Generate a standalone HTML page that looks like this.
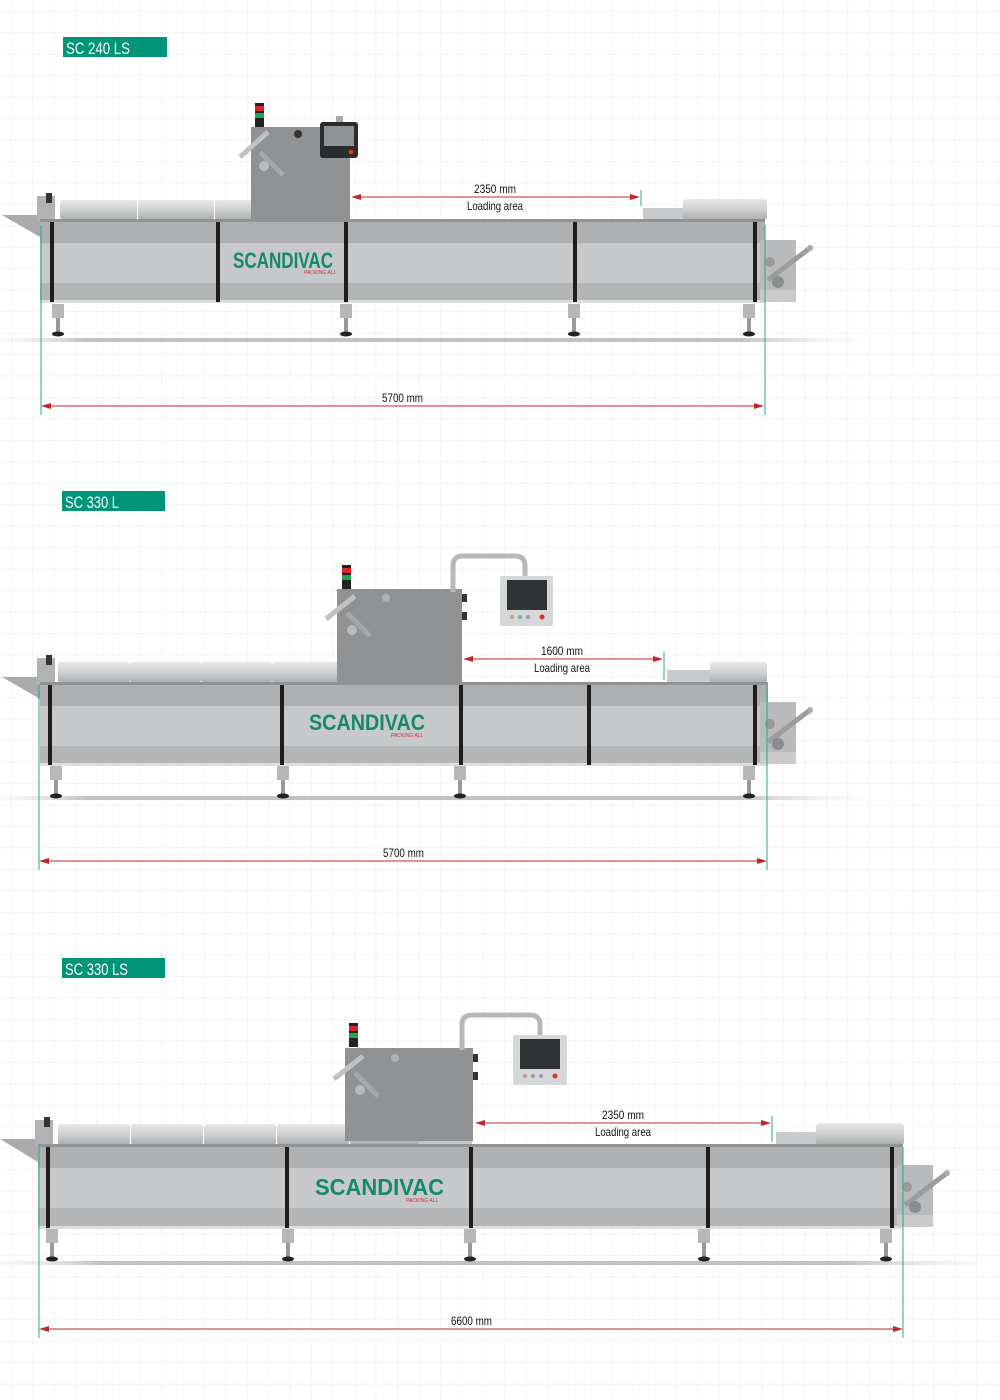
<!DOCTYPE html>
<html><head><meta charset="utf-8"><style>
html,body{margin:0;padding:0;background:#fff}
svg{display:block}
.t{font-family:"Liberation Sans Narrow","Liberation Sans",sans-serif;}
</style></head><body>
<svg width="1000" height="1400" viewBox="0 0 1000 1400" xmlns="http://www.w3.org/2000/svg">
<defs>
<pattern id="grid" x="11" y="11" width="21.45" height="21.45" patternUnits="userSpaceOnUse">
<path d="M0 0H21.45M0 0V21.45" stroke="#ececec" stroke-width="1.2" fill="none"/>
</pattern>
<linearGradient id="floor" x1="0" x2="1" y1="0" y2="0">
<stop offset="0" stop-color="#ddd" stop-opacity="0.3"/><stop offset="0.1" stop-color="#999"/><stop offset="0.85" stop-color="#999"/><stop offset="1" stop-color="#ddd" stop-opacity="0"/>
</linearGradient>
<linearGradient id="tray" x1="0" x2="0" y1="0" y2="1">
<stop offset="0" stop-color="#e6e7e8"/><stop offset="0.5" stop-color="#cfd0d1"/><stop offset="1" stop-color="#a9abac"/>
</linearGradient>
<g id="leg"><rect x="-6" y="0" width="12" height="14" fill="#b5b7b8"/><rect x="-2" y="14" width="4" height="14" fill="#999"/><ellipse cx="0" cy="30" rx="6" ry="2.5" fill="#222"/></g>
<g id="unw"><rect x="0" y="0" width="36" height="62" fill="#b8babb"/><rect x="0" y="50" width="36" height="12" fill="#c9cacb"/><line x1="8" y1="40" x2="50" y2="8" stroke="#9a9c9d" stroke-width="5"/><circle cx="50" cy="8" r="3" fill="#aaa"/><circle cx="10" cy="22" r="5" fill="#999"/><circle cx="18" cy="42" r="6" fill="#8a8c8d"/></g>
<g id="lights"><rect x="0" y="0" width="9" height="24" fill="#222"/><rect x="0" y="3" width="9" height="5" fill="#d8262a"/><rect x="0" y="10" width="9" height="5" fill="#1fa84a"/></g>
</defs>
<rect width="1000" height="1400" fill="url(#grid)"/>

<!-- ========== MACHINE 1 ========== -->
<rect x="63" y="37" width="104" height="20" fill="#009479"/>
<text class="t" x="66" y="54" font-size="17" fill="#fff" textLength="64" lengthAdjust="spacingAndGlyphs">SC 240 LS</text>
<rect x="0" y="338" width="870" height="4" fill="url(#floor)" opacity="0.6"/>
<polygon points="2,215 40,215 40,237" fill="#a8aaab"/>
<rect x="37" y="196" width="18" height="26" fill="#b0b2b3"/><rect x="46" y="193" width="6" height="10" fill="#333"/>
<rect x="60" y="200" width="77" height="20" rx="3" fill="url(#tray)"/>
<rect x="138" y="200" width="76" height="20" rx="3" fill="url(#tray)"/>
<rect x="215" y="200" width="76" height="20" rx="3" fill="url(#tray)"/>
<rect x="290" y="207" width="60" height="13" fill="#c3c4c5"/>
<rect x="643" y="208" width="42" height="12" fill="#c9cacb"/>
<rect x="683" y="199" width="84" height="21" rx="3" fill="url(#tray)"/>
<rect x="251" y="127" width="99" height="93" fill="#8f9192"/>
<line x1="240" y1="157" x2="268" y2="132" stroke="#c0c1c2" stroke-width="5"/>
<line x1="260" y1="152" x2="283" y2="175" stroke="#a5a7a8" stroke-width="5"/>
<circle cx="264" cy="166" r="5" fill="#b9babb"/><circle cx="298" cy="134" r="4" fill="#333"/>
<use href="#lights" x="255" y="103"/>
<rect x="336" y="116" width="7" height="8" fill="#aaa"/>
<rect x="320" y="122" width="38" height="36" rx="3" fill="#2a2c2d"/>
<rect x="324" y="126" width="30" height="20" fill="#8d9293"/>
<circle cx="351" cy="152" r="2.5" fill="#d32"/>
<rect x="40" y="219" width="725" height="3" fill="#909293"/>
<rect x="40" y="222" width="725" height="21" fill="#adafb0"/>
<rect x="40" y="243" width="725" height="40" fill="#c6c8c9"/>
<rect x="40" y="283" width="725" height="19" fill="#b3b5b6"/>
<rect x="40" y="300" width="725" height="3" fill="#dcdddd"/>
<g fill="#1e1e1e"><rect x="50" y="222" width="4" height="80"/><rect x="216" y="222" width="4" height="80"/><rect x="344" y="222" width="4" height="80"/><rect x="573" y="222" width="4" height="80"/><rect x="753" y="222" width="4" height="80"/></g>
<use href="#unw" x="760" y="240"/>
<use href="#leg" x="58" y="304"/><use href="#leg" x="346" y="304"/><use href="#leg" x="574" y="304"/><use href="#leg" x="749" y="304"/>
<text class="t" x="233" y="268" font-size="22" font-weight="bold" fill="#14896b" textLength="100" lengthAdjust="spacingAndGlyphs">SCANDIVAC</text>
<text class="t" x="304" y="274" font-size="5" font-style="italic" fill="#c33">PACKING ALL</text>
<line x1="41" y1="225" x2="41" y2="415" stroke="#2aa885" stroke-width="1"/>
<line x1="765" y1="225" x2="765" y2="415" stroke="#2aa885" stroke-width="1"/>
<line x1="48" y1="406" x2="758" y2="406" stroke="#c0272d" stroke-width="1"/>
<polygon points="41,406 51,403 51,409" fill="#c0272d"/><polygon points="764,406 754,403 754,409" fill="#c0272d"/>
<text class="t" x="382" y="402" font-size="12" fill="#111" textLength="41" lengthAdjust="spacingAndGlyphs">5700 mm</text>
<line x1="358" y1="197" x2="630" y2="197" stroke="#c0272d" stroke-width="1"/>
<polygon points="351,197 361,194 361,200" fill="#c0272d"/><polygon points="640,197 630,194 630,200" fill="#c0272d"/>
<line x1="641" y1="190" x2="641" y2="206" stroke="#2aa885"/>
<text class="t" x="474" y="193" font-size="12" fill="#111" textLength="42" lengthAdjust="spacingAndGlyphs">2350 mm</text>
<text class="t" x="467" y="210" font-size="12" fill="#111" textLength="56" lengthAdjust="spacingAndGlyphs">Loading area</text>

<!-- ========== MACHINE 2 ========== -->
<rect x="62" y="491" width="103" height="20" fill="#009479"/>
<text class="t" x="65" y="508" font-size="17" fill="#fff" textLength="54" lengthAdjust="spacingAndGlyphs">SC 330 L</text>
<rect x="0" y="796" width="870" height="4" fill="url(#floor)" opacity="0.6"/>
<polygon points="2,677 40,677 40,699" fill="#a8aaab"/>
<rect x="37" y="658" width="18" height="26" fill="#b0b2b3"/><rect x="46" y="655" width="6" height="10" fill="#333"/>
<rect x="58" y="662" width="72" height="21" rx="3" fill="url(#tray)"/>
<rect x="130" y="662" width="71" height="21" rx="3" fill="url(#tray)"/>
<rect x="201" y="662" width="71" height="21" rx="3" fill="url(#tray)"/>
<rect x="272" y="662" width="71" height="21" rx="3" fill="url(#tray)"/>
<rect x="343" y="662" width="70" height="21" rx="3" fill="url(#tray)"/>
<rect x="413" y="670" width="48" height="13" fill="#c3c4c5"/>
<rect x="667" y="670" width="44" height="13" fill="#c9cacb"/>
<rect x="710" y="662" width="57" height="21" rx="3" fill="url(#tray)"/>
<rect x="337" y="589" width="125" height="94" fill="#8f9192"/>
<line x1="326" y1="619" x2="355" y2="596" stroke="#c0c1c2" stroke-width="5"/>
<line x1="347" y1="613" x2="370" y2="636" stroke="#a5a7a8" stroke-width="5"/>
<circle cx="352" cy="630" r="5" fill="#b9babb"/><circle cx="386" cy="598" r="4" fill="#b0b1b2"/>
<use href="#lights" x="342" y="565"/>
<path d="M453 592 V566 Q453 556 463 556 H515 Q525 556 525 566 V578" stroke="#b5b7b8" stroke-width="5" fill="none"/>
<rect x="462" y="594" width="5" height="8" fill="#333"/><rect x="462" y="612" width="5" height="8" fill="#333"/>
<rect x="500" y="576" width="53" height="50" rx="2" fill="#d6d7d8"/>
<rect x="507" y="580" width="40" height="30" fill="#2f3334"/>
<circle cx="512" cy="617" r="2" fill="#c98"/><circle cx="520" cy="617" r="2" fill="#8a8"/><circle cx="528" cy="617" r="2" fill="#99b"/><circle cx="542" cy="617" r="2.5" fill="#d32"/>
<rect x="40" y="682" width="728" height="3" fill="#909293"/>
<rect x="40" y="685" width="728" height="21" fill="#adafb0"/>
<rect x="40" y="706" width="728" height="40" fill="#c6c8c9"/>
<rect x="40" y="746" width="728" height="19" fill="#b3b5b6"/>
<rect x="40" y="763" width="728" height="3" fill="#dcdddd"/>
<g fill="#1e1e1e"><rect x="48" y="685" width="4" height="80"/><rect x="280" y="685" width="4" height="80"/><rect x="459" y="685" width="4" height="80"/><rect x="587" y="685" width="4" height="80"/><rect x="753" y="685" width="4" height="80"/></g>
<use href="#unw" x="760" y="702"/>
<use href="#leg" x="56" y="766"/><use href="#leg" x="283" y="766"/><use href="#leg" x="460" y="766"/><use href="#leg" x="749" y="766"/>
<text class="t" x="309" y="730" font-size="22" font-weight="bold" fill="#14896b" textLength="116" lengthAdjust="spacingAndGlyphs">SCANDIVAC</text>
<text class="t" x="391" y="737" font-size="5" font-style="italic" fill="#c33">PACKING ALL</text>
<line x1="39" y1="685" x2="39" y2="870" stroke="#2aa885"/>
<line x1="767" y1="685" x2="767" y2="870" stroke="#2aa885"/>
<line x1="48" y1="861" x2="758" y2="861" stroke="#c0272d"/>
<polygon points="39,861 49,858 49,864" fill="#c0272d"/><polygon points="767,861 757,858 757,864" fill="#c0272d"/>
<text class="t" x="383" y="857" font-size="12" fill="#111" textLength="41" lengthAdjust="spacingAndGlyphs">5700 mm</text>
<line x1="470" y1="659" x2="655" y2="659" stroke="#c0272d"/>
<polygon points="463,659 473,656 473,662" fill="#c0272d"/><polygon points="663,659 653,656 653,662" fill="#c0272d"/>
<line x1="664" y1="652" x2="664" y2="680" stroke="#2aa885"/>
<text class="t" x="541" y="655" font-size="12" fill="#111" textLength="42" lengthAdjust="spacingAndGlyphs">1600 mm</text>
<text class="t" x="534" y="672" font-size="12" fill="#111" textLength="56" lengthAdjust="spacingAndGlyphs">Loading area</text>

<!-- ========== MACHINE 3 ========== -->
<rect x="62" y="958" width="103" height="20" fill="#009479"/>
<text class="t" x="65" y="975" font-size="17" fill="#fff" textLength="63" lengthAdjust="spacingAndGlyphs">SC 330 LS</text>
<rect x="0" y="1261" width="1000" height="4" fill="url(#floor)" opacity="0.6"/>
<polygon points="0,1139 38,1139 38,1162" fill="#a8aaab"/>
<rect x="35" y="1120" width="18" height="26" fill="#b0b2b3"/><rect x="44" y="1117" width="6" height="10" fill="#333"/>
<rect x="58" y="1124" width="72" height="21" rx="3" fill="url(#tray)"/>
<rect x="131" y="1124" width="72" height="21" rx="3" fill="url(#tray)"/>
<rect x="204" y="1124" width="72" height="21" rx="3" fill="url(#tray)"/>
<rect x="277" y="1124" width="72" height="21" rx="3" fill="url(#tray)"/>
<rect x="350" y="1124" width="70" height="21" rx="3" fill="url(#tray)"/>
<rect x="420" y="1132" width="52" height="13" fill="#c3c4c5"/>
<rect x="776" y="1132" width="44" height="13" fill="#c9cacb"/>
<rect x="816" y="1123" width="88" height="22" rx="3" fill="url(#tray)"/>
<rect x="345" y="1048" width="128" height="93" fill="#8f9192"/>
<line x1="334" y1="1079" x2="363" y2="1056" stroke="#c0c1c2" stroke-width="5"/>
<line x1="355" y1="1073" x2="378" y2="1096" stroke="#a5a7a8" stroke-width="5"/>
<circle cx="360" cy="1090" r="5" fill="#b9babb"/><circle cx="395" cy="1058" r="4" fill="#b0b1b2"/>
<use href="#lights" x="349" y="1023"/>
<path d="M462 1050 V1025 Q462 1015 472 1015 H530 Q540 1015 540 1025 V1037" stroke="#b5b7b8" stroke-width="5" fill="none"/>
<rect x="473" y="1054" width="5" height="8" fill="#333"/><rect x="473" y="1072" width="5" height="8" fill="#333"/>
<rect x="513" y="1035" width="54" height="50" rx="2" fill="#d6d7d8"/>
<rect x="520" y="1039" width="40" height="30" fill="#2f3334"/>
<circle cx="525" cy="1076" r="2" fill="#c98"/><circle cx="533" cy="1076" r="2" fill="#8a8"/><circle cx="541" cy="1076" r="2" fill="#99b"/><circle cx="555" cy="1076" r="2.5" fill="#d32"/>
<rect x="38" y="1144" width="865" height="3" fill="#909293"/>
<rect x="38" y="1147" width="865" height="21" fill="#adafb0"/>
<rect x="38" y="1168" width="865" height="40" fill="#c6c8c9"/>
<rect x="38" y="1208" width="865" height="20" fill="#b3b5b6"/>
<rect x="38" y="1226" width="865" height="3" fill="#dcdddd"/>
<g fill="#1e1e1e"><rect x="46" y="1147" width="4" height="81"/><rect x="285" y="1147" width="4" height="81"/><rect x="469" y="1147" width="4" height="81"/><rect x="706" y="1147" width="4" height="81"/><rect x="890" y="1147" width="4" height="81"/></g>
<use href="#unw" x="897" y="1165"/>
<use href="#leg" x="52" y="1229"/><use href="#leg" x="288" y="1229"/><use href="#leg" x="470" y="1229"/><use href="#leg" x="704" y="1229"/><use href="#leg" x="886" y="1229"/>
<text class="t" x="315" y="1195" font-size="23" font-weight="bold" fill="#14896b" textLength="129" lengthAdjust="spacingAndGlyphs">SCANDIVAC</text>
<text class="t" x="406" y="1202" font-size="5" font-style="italic" fill="#c33">PACKING ALL</text>
<line x1="39" y1="1147" x2="39" y2="1338" stroke="#2aa885"/>
<line x1="903" y1="1147" x2="903" y2="1338" stroke="#2aa885"/>
<line x1="48" y1="1329" x2="894" y2="1329" stroke="#c0272d"/>
<polygon points="39,1329 49,1326 49,1332" fill="#c0272d"/><polygon points="903,1329 893,1326 893,1332" fill="#c0272d"/>
<text class="t" x="451" y="1325" font-size="12" fill="#111" textLength="41" lengthAdjust="spacingAndGlyphs">6600 mm</text>
<line x1="482" y1="1123" x2="764" y2="1123" stroke="#c0272d"/>
<polygon points="475,1123 485,1120 485,1126" fill="#c0272d"/><polygon points="771,1123 761,1120 761,1126" fill="#c0272d"/>
<line x1="772" y1="1116" x2="772" y2="1142" stroke="#2aa885"/>
<text class="t" x="602" y="1119" font-size="12" fill="#111" textLength="42" lengthAdjust="spacingAndGlyphs">2350 mm</text>
<text class="t" x="595" y="1136" font-size="12" fill="#111" textLength="56" lengthAdjust="spacingAndGlyphs">Loading area</text>
</svg>
</body></html>
